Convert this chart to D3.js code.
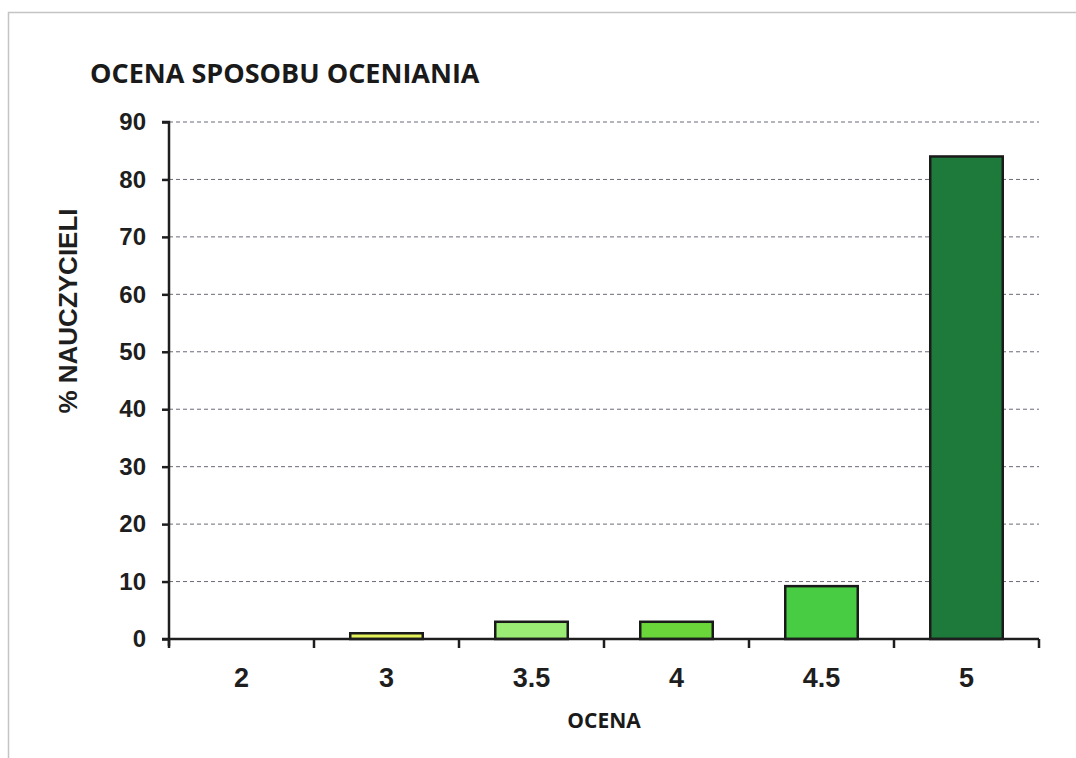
<!DOCTYPE html>
<html>
<head>
<meta charset="utf-8">
<script src="https://cdn.jsdelivr.net/npm/d3@7"></script>
<style>
  body { margin: 0; background: #fff; }
  svg { display: block; }
</style>
</head>
<body>
<div id="chart"></div>
<script>
const categories = ["2", "3", "3.5", "4", "4.5", "5"];
const values = [0, 1, 3, 3, 9.2, 84];
const barColors = ["#e8f05a", "#e6f25c", "#9aec74", "#6ad63a", "#48cc44", "#1e7a3a"];
const yTicks = [0, 10, 20, 30, 40, 50, 60, 70, 80, 90];

const width = 1076, height = 758;
const margin = { top: 122, right: 37, bottom: 119, left: 169 };
const innerW = width - margin.left - margin.right;
const innerH = height - margin.top - margin.bottom;

const svg = d3.select("#chart")
  .append("svg")
  .attr("width", width)
  .attr("height", height);

// frame: only top and left edges visible
svg.append("path")
  .attr("d", `M8.5,${height}V12.5H${width}`)
  .attr("fill", "none")
  .attr("stroke", "#c4c4c4")
  .attr("stroke-width", 1.5);

svg.append("text")
  .attr("x", 90).attr("y", 83)
  .attr("font-family", "'Open Sans', sans-serif")
  .attr("font-weight", 700)
  .attr("font-size", 27)
  .attr("fill", "#1a1a1a")
  .text("OCENA SPOSOBU OCENIANIA");

const g = svg.append("g")
  .attr("transform", `translate(${margin.left},${margin.top})`);

const x = d3.scaleBand()
  .domain(categories)
  .range([0, innerW])
  .paddingInner(0.5)
  .paddingOuter(0.25);

const y = d3.scaleLinear()
  .domain([0, 90])
  .range([innerH, 0]);

// gridlines
g.append("g")
  .selectAll("line")
  .data(yTicks.filter(d => d > 0))
  .enter()
  .append("line")
  .attr("x1", 0).attr("x2", innerW)
  .attr("y1", d => y(d)).attr("y2", d => y(d))
  .attr("stroke", "#6a6a7a")
  .attr("stroke-width", 1)
  .attr("stroke-dasharray", "4,3");

// bars
g.append("g")
  .selectAll("rect")
  .data(values)
  .enter()
  .append("rect")
  .attr("x", (d, i) => x(categories[i]))
  .attr("y", d => y(d))
  .attr("width", x.bandwidth())
  .attr("height", d => innerH - y(d))
  .attr("fill", (d, i) => barColors[i])
  .attr("stroke", d => d > 0 ? "#1a1a1a" : "none")
  .attr("stroke-width", 2.5);

// y axis
const axisY = d3.axisLeft(y).tickValues(yTicks).tickSize(7).tickPadding(16);
const gy = g.append("g").call(axisY);
gy.select(".domain").attr("stroke", "#1e1e1e").attr("stroke-width", 2.5)
  .attr("d", `M0,${innerH + 7}V0H-7`);
gy.selectAll(".tick line").attr("stroke", "#1e1e1e").attr("stroke-width", 2.5);
gy.selectAll(".tick text")
  .attr("font-family", "'Liberation Sans', Arial, sans-serif")
  .attr("font-weight", 700)
  .attr("font-size", 24)
  .attr("fill", "#1e1e1e");

// x axis with ticks at band boundaries
const xBound = d3.scaleLinear().domain([0, categories.length]).range([0, innerW]);
const gx = g.append("g").attr("transform", `translate(0,${innerH})`);
gx.append("line")
  .attr("x1", -7).attr("x2", innerW)
  .attr("stroke", "#1e1e1e").attr("stroke-width", 2.5);
gx.selectAll(".xtick")
  .data(d3.range(categories.length + 1))
  .enter()
  .append("line")
  .attr("class", "xtick")
  .attr("x1", d => xBound(d)).attr("x2", d => xBound(d))
  .attr("y1", 0).attr("y2", 9)
  .attr("stroke", "#1e1e1e").attr("stroke-width", 2.5);
gx.selectAll(".xlabel")
  .data(categories)
  .enter()
  .append("text")
  .attr("class", "xlabel")
  .attr("x", d => x(d) + x.bandwidth() / 2)
  .attr("y", 48)
  .attr("text-anchor", "middle")
  .attr("font-family", "'Liberation Sans', Arial, sans-serif")
  .attr("font-weight", 700)
  .attr("font-size", 27)
  .attr("fill", "#1e1e1e")
  .text(d => d);

svg.append("text")
  .attr("x", margin.left + innerW / 2)
  .attr("y", 728)
  .attr("text-anchor", "middle")
  .attr("font-family", "'Open Sans', sans-serif")
  .attr("font-weight", 700)
  .attr("font-size", 21)
  .attr("fill", "#1a1a1a")
  .text("OCENA");

svg.append("text")
  .attr("transform", "translate(77,311) rotate(-90)")
  .attr("text-anchor", "middle")
  .attr("font-family", "'Liberation Sans', Arial, sans-serif")
  .attr("font-weight", 700)
  .attr("font-size", 26)
  .attr("fill", "#1e1e1e")
  .text("% NAUCZYCIELI");
</script>
</body>
</html>
